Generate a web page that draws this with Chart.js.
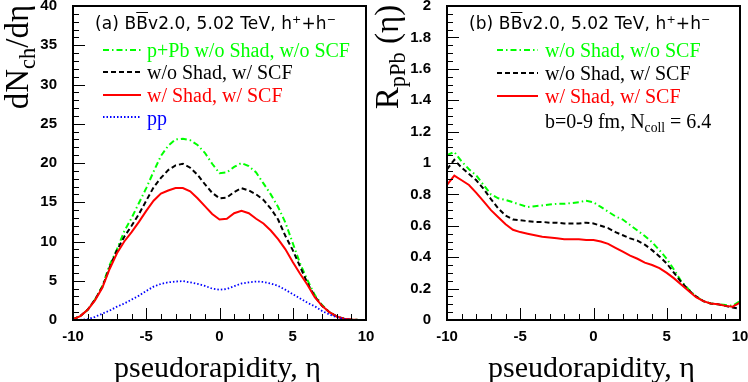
<!DOCTYPE html>
<html>
<head>
<meta charset="utf-8">
<script src="https://cdn.jsdelivr.net/npm/chart.js@4.4.1/dist/chart.umd.min.js"></script>
<style>
  html, body { margin: 0; padding: 0; background: #fff; }
  #wrap { position: relative; width: 748px; height: 382px; overflow: hidden; background: #fff; }
  canvas { position: absolute; top: 0; }
  canvas.deco { pointer-events: none; }
  .frame { position: absolute; box-sizing: border-box; border: 2px solid #000; pointer-events: none; z-index: 5; }
  .tk { position: absolute; background: #000; pointer-events: none; z-index: 5; }
  .t { position: absolute; white-space: nowrap; line-height: 22px; }
  .title { font-family: "DejaVu Sans", Arial, sans-serif; font-size: 17px; letter-spacing: 0.1px; color: #000; }
  .leg { font-family: "Liberation Serif", "Times New Roman", serif; font-size: 20px; }
  .axt { font-family: "Liberation Serif", "Times New Roman", serif; font-size: 30px; color: #000; }
  .yt { font-family: "Liberation Serif", "Times New Roman", serif; font-size: 33px; color: #000;
        transform: translate(-50%, -50%) rotate(-90deg); line-height: 34px; }
  .ob { text-decoration: overline; }
  .sp { font-size: 65%; vertical-align: 0.5em; line-height: 0; }
  .sb { font-size: 68%; vertical-align: -0.3em; line-height: 0; }
</style>
</head>
<body>
<div id="wrap">
  <canvas id="left" width="374" height="382" style="left:0"></canvas>
  <canvas id="right" width="374" height="382" style="left:374px"></canvas>
  <canvas id="leftDeco" class="deco" width="374" height="382" style="left:0"></canvas>
  <canvas id="rightDeco" class="deco" width="374" height="382" style="left:374px"></canvas>

  <div class="t title" style="left:95px; top:12px">(a) B<span class="ob">B</span>v2.0, 5.02 TeV, h<span class="sp">+</span>+h<span class="sp">&minus;</span></div>
  <div class="t leg" style="left:147px; top:39px; color:#00ff00">p+Pb w/o Shad, w/o SCF</div>
  <div class="t leg" style="left:147px; top:61px; color:#000">w/o Shad, w/ SCF</div>
  <div class="t leg" style="left:147px; top:84px; color:#ff0000">w/ Shad, w/ SCF</div>
  <div class="t leg" style="left:147px; top:107px; color:#0000ff">pp</div>

  <div class="t title" style="left:469px; top:12px">(b) B<span class="ob">B</span>v2.0, 5.02 TeV, h<span class="sp">+</span>+h<span class="sp">&minus;</span></div>
  <div class="t leg" style="left:545px; top:39px; color:#00ff00">w/o Shad, w/o SCF</div>
  <div class="t leg" style="left:545px; top:62px; color:#000">w/o Shad, w/ SCF</div>
  <div class="t leg" style="left:545px; top:85px; color:#ff0000">w/ Shad, w/ SCF</div>
  <div class="t leg" style="left:545px; top:110px; color:#000">b=0-9 fm, N<span class="sb">coll</span> = 6.4</div>

  <div class="t yt" style="left:17px; top:57px">dN<span class="sb">ch</span>/d&eta;</div>
  <div class="t yt" style="left:387px; top:57px">R<span class="sb">pPb</span> (&eta;)</div>
  <div class="t axt" style="left:114px; top:356px">pseudorapidity, &eta;</div>
  <div class="t axt" style="left:488px; top:356px">pseudorapidity, &eta;</div>
</div>

<script>
// pseudorapidity bins
const eta = [-10, -9.5, -9, -8.5, -8, -7.5, -7, -6.5, -6, -5.5, -5, -4.5, -4, -3.5, -3, -2.5, -2, -1.5, -1, -0.5,
  0, 0.5, 1, 1.5, 2, 2.5, 3, 3.5, 4, 4.5, 5, 5.5, 6, 6.5, 7, 7.5, 8, 8.5, 9, 9.5, 10];

// (a) dN/deta
const dndetaNoShadNoScf = [0.1, 0.5, 1.3, 2.6, 4.3, 7.0, 9.0, 11.3, 13.0, 14.9, 16.8, 18.9, 20.9, 22.2, 23.0, 23.1, 22.9, 22.3, 21.3, 19.9,
  18.7, 18.8, 19.5, 20.0, 19.6, 18.8, 17.4, 16.0, 14.4, 12.4, 9.8, 7.2, 5.1, 3.2, 1.9, 1.0, 0.45, 0.15, 0.05, 0, 0];
const dndetaNoShadScf = [0.1, 0.5, 1.3, 2.6, 4.2, 6.7, 8.9, 10.6, 12.0, 13.5, 15.2, 16.9, 18.1, 19.1, 19.7, 19.9, 19.4, 18.5, 17.3, 16.2,
  15.5, 15.6, 16.3, 16.8, 16.5, 16.0, 15.3, 14.2, 12.8, 10.7, 8.9, 6.8, 4.7, 3.0, 1.8, 1.0, 0.45, 0.15, 0.05, 0, 0];
const dndetaShadScf = [0.1, 0.5, 1.3, 2.5, 4.1, 6.5, 8.5, 10.0, 11.2, 12.5, 13.9, 15.2, 16.1, 16.5, 16.8, 16.8, 16.4, 15.5, 14.5, 13.5,
  12.8, 12.9, 13.6, 13.9, 13.6, 12.9, 12.3, 11.4, 10.3, 9.0, 7.4, 5.9, 4.5, 2.9, 1.8, 1.0, 0.45, 0.15, 0.05, 0, 0];
const dndetaPP = [0, 0.02, 0.1, 0.4, 0.8, 1.2, 1.7, 2.1, 2.6, 3.1, 3.7, 4.25, 4.6, 4.8, 4.9, 4.95, 4.8, 4.6, 4.35, 4.0,
  3.85, 3.95, 4.3, 4.65, 4.8, 4.9, 4.85, 4.65, 4.35, 3.85, 3.3, 2.75, 2.2, 1.75, 1.15, 0.7, 0.35, 0.12, 0.03, 0, 0];

// (b) R_pPb
const rppbNoShadNoScf = [1.05, 1.07, 1.01, 0.96, 0.92, 0.86, 0.80, 0.775, 0.765, 0.75, 0.735, 0.72, 0.725, 0.73, 0.735, 0.74, 0.74, 0.745, 0.75, 0.76,
  0.75, 0.72, 0.69, 0.66, 0.64, 0.605, 0.57, 0.535, 0.495, 0.445, 0.39, 0.32, 0.245, 0.195, 0.15, 0.12, 0.105, 0.1, 0.095, 0.09, 0.12];
const rppbNoShadScf = [0.96, 1.02, 0.97, 0.93, 0.89, 0.835, 0.77, 0.71, 0.665, 0.64, 0.635, 0.63, 0.625, 0.625, 0.62, 0.62, 0.615, 0.615, 0.615, 0.62,
  0.615, 0.6, 0.585, 0.56, 0.54, 0.52, 0.505, 0.48, 0.445, 0.405, 0.36, 0.30, 0.24, 0.19, 0.15, 0.12, 0.105, 0.1, 0.09, 0.08, 0.07];
const rppbShadScf = [0.86, 0.92, 0.89, 0.86, 0.81, 0.755, 0.70, 0.655, 0.61, 0.575, 0.56, 0.55, 0.54, 0.53, 0.525, 0.52, 0.515, 0.515, 0.515, 0.51,
  0.51, 0.5, 0.485, 0.46, 0.435, 0.41, 0.39, 0.365, 0.35, 0.33, 0.30, 0.265, 0.225, 0.185, 0.145, 0.12, 0.105, 0.1, 0.09, 0.085, 0.11];

const xTicks = [-10, -5, 0, 5, 10];

const GREEN = "#00ff00", BLACK = "#000000", RED = "#ff0000", BLUE = "#0000ff";
const styles = {
  green: { color: GREEN, dash: [6, 3, 1.5, 3], width: 2 },
  black: { color: BLACK, dash: [5, 3], width: 2 },
  red: { color: RED, dash: [], width: 2 },
  blue: { color: BLUE, dash: [1.5, 2], width: 1.8 },
};

function pts(ys) {
  return eta.map((x, i) => ({ x: x, y: ys[i] }));
}

function ds(ys, st, order) {
  return {
    data: pts(ys),
    borderColor: st.color,
    borderDash: st.dash,
    borderWidth: st.width,
    pointRadius: 0,
    tension: 0,
    fill: false,
    order: order,
  };
}

const tickFont = { family: "'Liberation Sans', Arial, sans-serif", size: 15, weight: "bold" };
const frameBorder = { display: true, color: "#000", width: 2 };

function makeOptions(yMax, yStep) {
  return {
    responsive: false,
    animation: false,
    devicePixelRatio: 1,
    layout: { padding: { top: 6, right: 8, left: 0, bottom: 0 } },
    plugins: {
      legend: { display: false },
      tooltip: { enabled: false },
    },
    scales: {
      x: {
        type: "linear",
        min: -10,
        max: 10,
        afterFit: (s) => { s.height = 62; s.paddingLeft = 0; s.paddingRight = 0; },
        afterBuildTicks: (s) => { s.ticks = xTicks.map((v) => ({ value: v })); },
        grid: { display: false, drawTicks: false },
        border: frameBorder,
        ticks: { color: "#000", font: tickFont, padding: 8, maxRotation: 0 },
      },
      y: {
        type: "linear",
        min: 0,
        max: yMax,
        afterFit: (s) => { s.width = 73; s.paddingTop = 0; s.paddingBottom = 0; },
        grid: { display: false, drawTicks: false },
        border: frameBorder,
        ticks: {
          color: "#000", font: tickFont, padding: 16, stepSize: yStep,
          callback: (v) => String(Math.round(v * 100) / 100),
        },
      },
      // top and right edges of the frame
      x2: {
        type: "linear",
        position: "top",
        min: -10,
        max: 10,
        afterFit: (s) => { s.height = 0; s.paddingLeft = 0; s.paddingRight = 0; },
        grid: { display: false, drawTicks: false },
        border: frameBorder,
        ticks: { display: false },
      },
      y2: {
        type: "linear",
        position: "right",
        min: 0,
        max: yMax,
        afterFit: (s) => { s.width = 0; s.paddingTop = 0; s.paddingBottom = 0; },
        grid: { display: false, drawTicks: false },
        border: frameBorder,
        ticks: { display: false },
      },
    },
  };
}

const wrap = document.getElementById("wrap");

function box(cls, left, top, w, h) {
  const d = document.createElement("div");
  d.className = cls;
  d.style.left = left + "px";
  d.style.top = top + "px";
  d.style.width = w + "px";
  d.style.height = h + "px";
  wrap.appendChild(d);
}

// inward ticks and frame (ROOT look) as html boxes, legend samples on overlay canvas
function drawFrame(chart, deco, offset, cfg) {
  const x = chart.scales.x, y = chart.scales.y;
  const ok = (v, d) => (isFinite(v) ? Math.round(v) : d);
  const L = ok(x.getPixelForValue(-10), 73);
  const R = ok(x.getPixelForValue(10), 366);
  const B = ok(y.getPixelForValue(0), 320);
  const T = ok(y.getPixelForValue(cfg.minor * cfg.minorCount), 6);

  for (let v = -10; v <= 10; v++) {
    const px = ok(x.getPixelForValue(v), L + ((v + 10) * (R - L)) / 20);
    const len = v % 5 === 0 ? 12 : 6;
    box("tk", offset + px, B - len, 1, len);
  }
  for (let i = 0; i <= cfg.minorCount; i++) {
    const py = ok(y.getPixelForValue(i * cfg.minor), B - (i * (B - T)) / cfg.minorCount);
    const len = i % cfg.majorEvery === 0 ? 12 : 6;
    box("tk", offset + L, py, len, 1);
  }
  box("frame", offset + L - 1, T - 1, R - L + 2, B - T + 2);

  const ctx = deco.getContext("2d");
  cfg.samples.forEach((s) => {
    const st = styles[s.style];
    ctx.strokeStyle = st.color;
    ctx.lineWidth = st.width;
    ctx.setLineDash(st.dash);
    ctx.beginPath();
    ctx.moveTo(s.x0, s.y);
    ctx.lineTo(s.x1, s.y);
    ctx.stroke();
  });
  ctx.setLineDash([]);
}

const leftChart = new Chart(document.getElementById("left"), {
  type: "line",
  data: {
    datasets: [
      ds(dndetaPP, styles.blue, 0),
      ds(dndetaShadScf, styles.red, 1),
      ds(dndetaNoShadScf, styles.black, 2),
      ds(dndetaNoShadNoScf, styles.green, 3),
    ],
  },
  options: makeOptions(40, 5),
});

const rightChart = new Chart(document.getElementById("right"), {
  type: "line",
  data: {
    datasets: [
      ds(rppbShadScf, styles.red, 1),
      ds(rppbNoShadScf, styles.black, 2),
      ds(rppbNoShadNoScf, styles.green, 3),
    ],
  },
  options: makeOptions(2, 0.2),
});

drawFrame(leftChart, document.getElementById("leftDeco"), 0, {
  minor: 1, minorCount: 40, majorEvery: 5,
  samples: [
    { style: "green", x0: 103, x1: 141, y: 50 },
    { style: "black", x0: 103, x1: 141, y: 72 },
    { style: "red", x0: 103, x1: 141, y: 95 },
    { style: "blue", x0: 103, x1: 141, y: 117 },
  ],
});
drawFrame(rightChart, document.getElementById("rightDeco"), 374, {
  minor: 0.05, minorCount: 40, majorEvery: 4,
  samples: [
    { style: "green", x0: 123, x1: 164, y: 50 },
    { style: "black", x0: 123, x1: 164, y: 73 },
    { style: "red", x0: 123, x1: 164, y: 96 },
  ],
});
</script>
</body>
</html>
